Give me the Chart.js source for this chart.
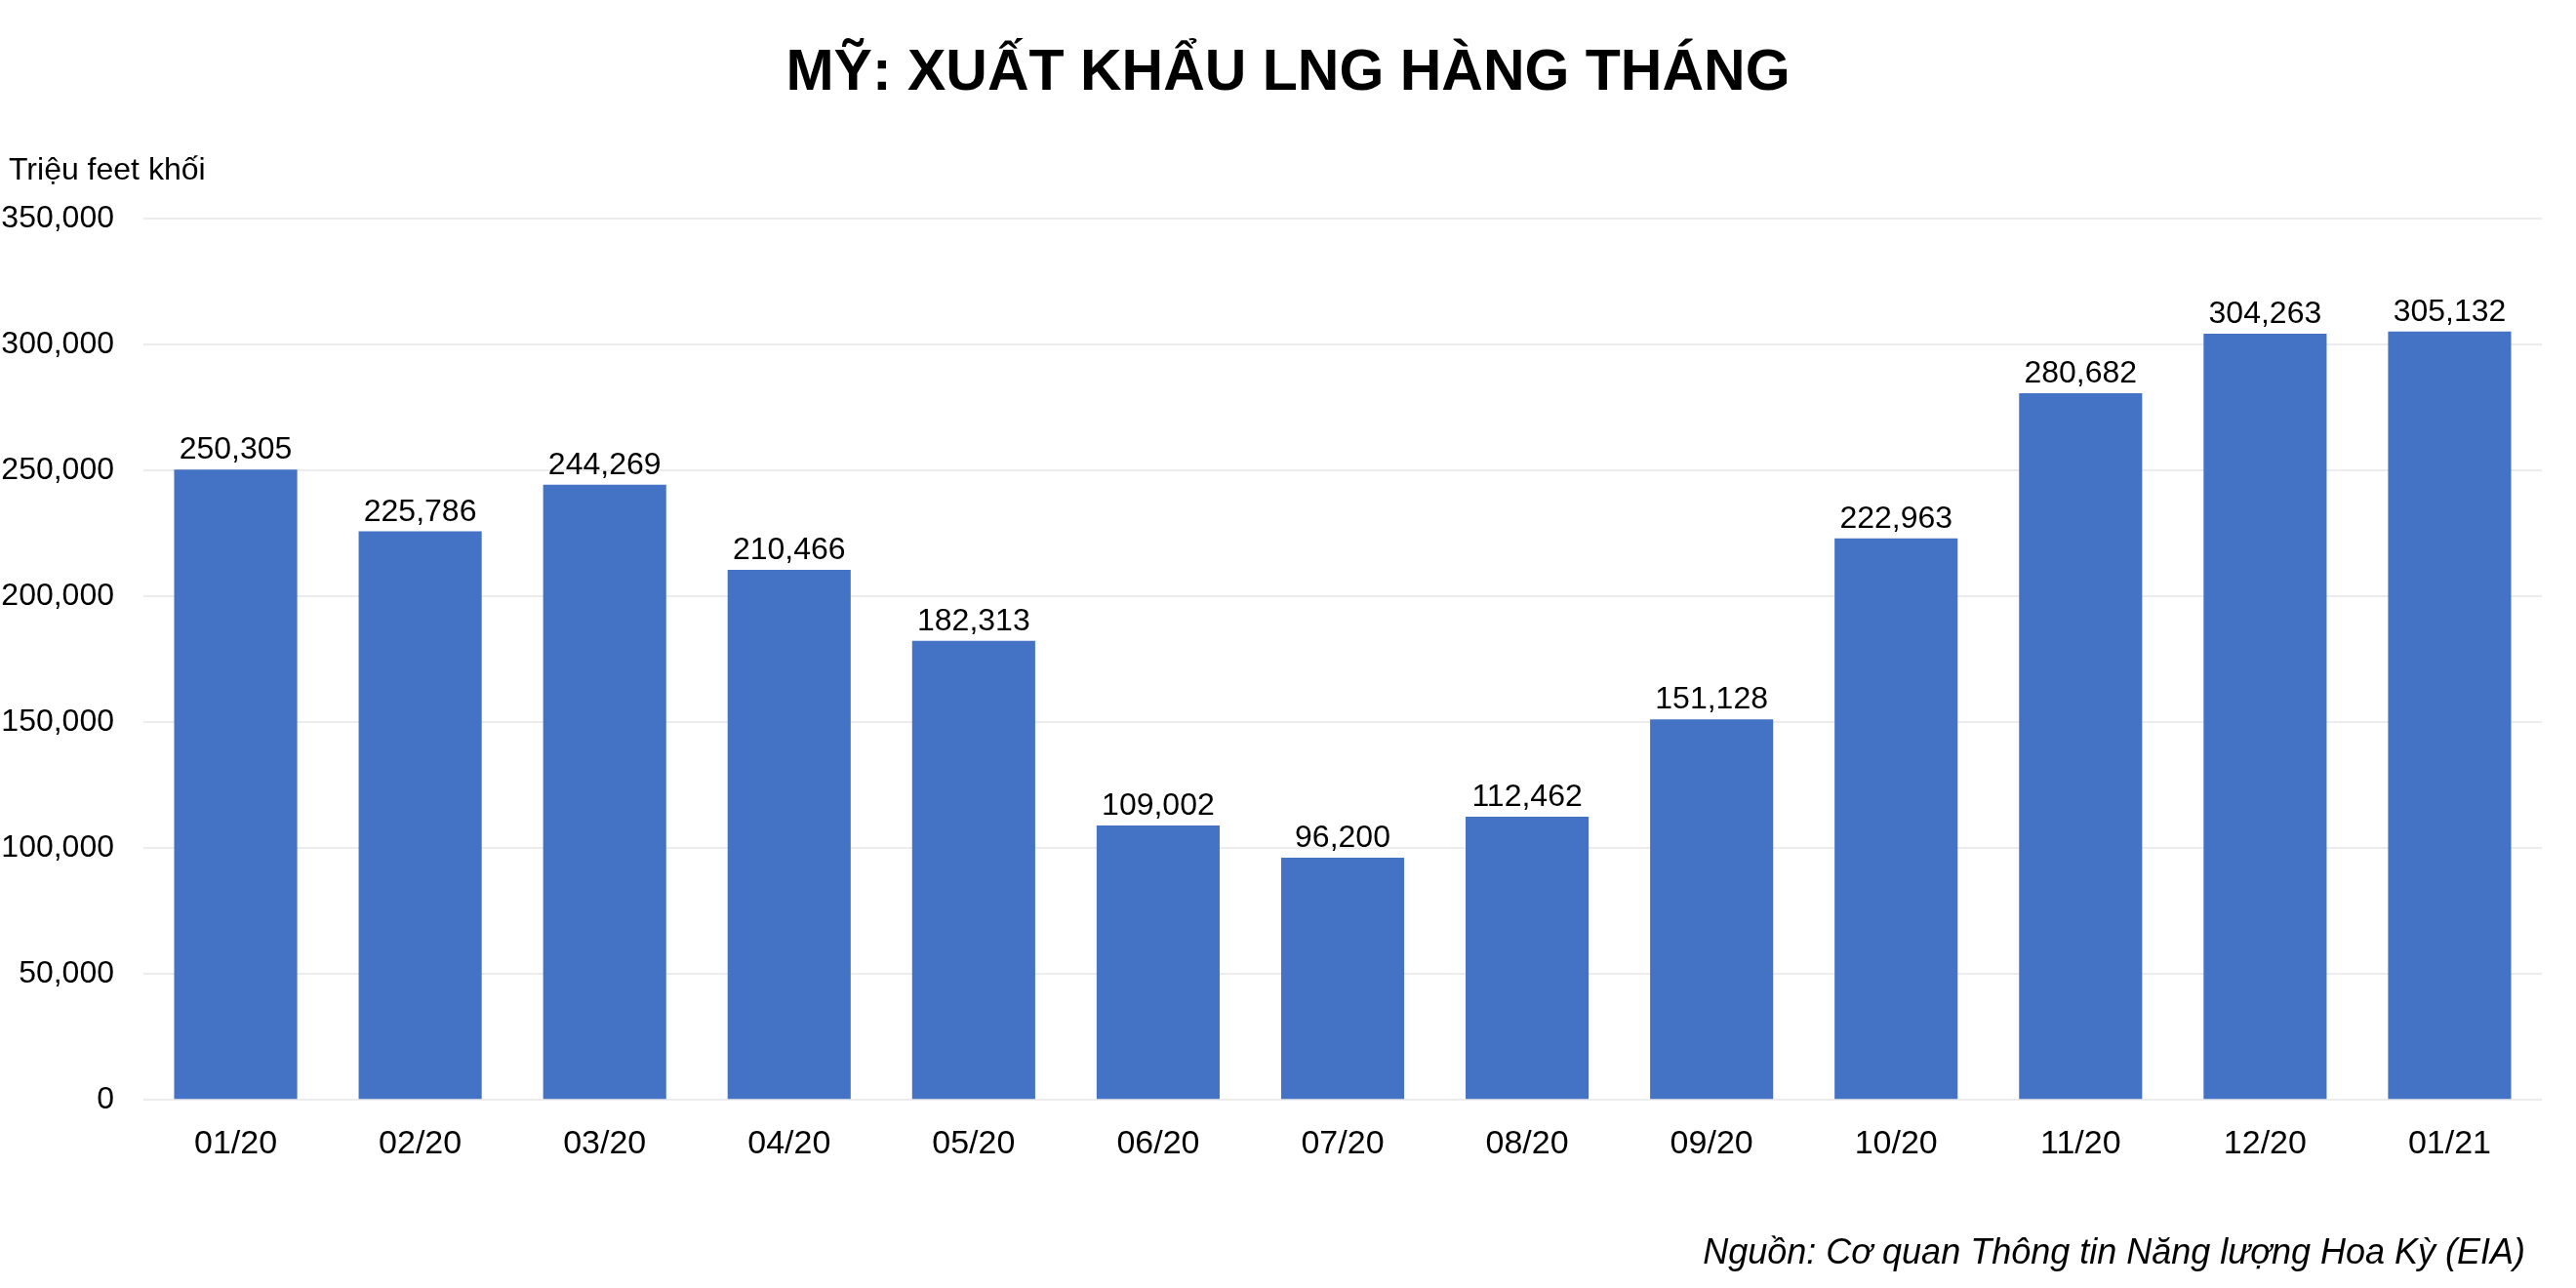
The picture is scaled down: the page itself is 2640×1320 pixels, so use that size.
<!DOCTYPE html>
<html>
<head>
<meta charset="utf-8">
<script src="https://cdn.jsdelivr.net/npm/chart.js@4.4.0/dist/chart.umd.min.js"></script>
<style>
  html, body { margin: 0; padding: 0; background: #fff; }
  #chart { display: block; }
</style>
</head>
<body>
<canvas id="chart" width="2640" height="1320"></canvas>
<script>
// Dữ liệu
const months = ["01/20", "02/20", "03/20", "04/20", "05/20", "06/20", "07/20", "08/20", "09/20", "10/20", "11/20", "12/20", "01/21"];
const exports = [250305, 225786, 244269, 210466, 182313, 109002, 96200, 112462, 151128, 222963, 280682, 304263, 305132];
const yTicks = [0, 50000, 100000, 150000, 200000, 250000, 300000, 350000];

const titleText = "MỸ: XUẤT KHẨU LNG HÀNG THÁNG";
const unitText = "Triệu feet khối";
const sourceText = "Nguồn: Cơ quan Thông tin Năng lượng Hoa Kỳ (EIA)";

const FONT = "'Liberation Sans', Arial, sans-serif";
const fmt = v => Number(v).toLocaleString("en-US");

Chart.defaults.font.family = FONT;
Chart.defaults.color = "#000";

// Tiêu đề, nhãn giá trị trên cột, đơn vị trục y, nguồn
const labelsPlugin = {
    id: "labels",
    afterDatasetsDraw(chart) {
        const ctx = chart.ctx;
        const area = chart.chartArea;
        const meta = chart.getDatasetMeta(0);
        ctx.save();
        ctx.fillStyle = "#000";
        ctx.textBaseline = "alphabetic";

        // tiêu đề (căn giữa toàn bộ ảnh)
        ctx.font = "bold 59px " + FONT;
        ctx.textAlign = "center";
        ctx.fillText(titleText, chart.width / 2, 92);

        ctx.font = "32px " + FONT;
        meta.data.forEach((bar, i) => {
            ctx.fillText(fmt(exports[i]), bar.x, bar.y - 11);
        });

        // đơn vị
        ctx.textAlign = "left";
        ctx.fillText(unitText, area.left - 138, area.top - 40);

        // nguồn
        ctx.font = "italic 36px " + FONT;
        ctx.textAlign = "right";
        ctx.fillText(sourceText, area.right - 17, chart.height - 25);
        ctx.restore();
    }
};

new Chart(document.getElementById("chart"), {
    type: "bar",
    data: {
        labels: months,
        datasets: [{
            data: exports,
            backgroundColor: "#4472C4",
            barPercentage: 0.667,
            categoryPercentage: 1.0,
        }],
    },
    options: {
        responsive: false,
        devicePixelRatio: 1,
        animation: false,
        layout: {
            padding: { left: 0, right: 35, top: 224, bottom: 110 },
        },
        plugins: {
            legend: { display: false },
            tooltip: { enabled: false },
        },
        scales: {
            x: {
                grid: { display: false },
                border: { display: false },
                ticks: {
                    font: { size: 34 },
                    color: "#000",
                    padding: 17,
                },
            },
            y: {
                min: 0,
                max: 350000,
                afterBuildTicks(scale) {
                    scale.ticks = yTicks.map(v => ({ value: v }));
                },
                afterFit(scale) {
                    scale.width = 147;
                },
                grid: {
                    color: "#ececec",
                    lineWidth: 2,
                    drawTicks: false,
                },
                border: { display: false },
                ticks: {
                    font: { size: 32 },
                    color: "#000",
                    padding: 30,
                    callback: v => fmt(v),
                },
            },
        },
    },
    plugins: [labelsPlugin],
});
</script>
</body>
</html>
